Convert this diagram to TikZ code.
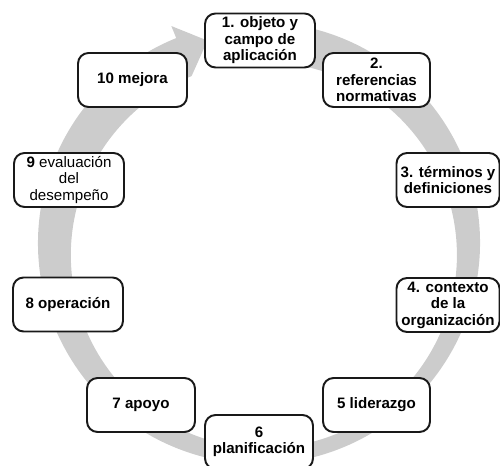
\documentclass[tikz,border=0pt]{standalone}
\usepackage{fontspec}
\setmainfont{Liberation Sans}
\begin{document}
\begin{tikzpicture}[x=0.02cm,y=0.02cm,
  pbox/.style={draw=black!90,line width=1.1pt,fill=white,rounded corners=6pt,
    align=center,inner sep=1pt,font=\fontsize{8.6}{9.4}\selectfont\bfseries},
  wA/.style={minimum width=2.2cm,minimum height=1.08cm},
  wB/.style={minimum width=2.14cm,minimum height=1.08cm},
  wC/.style={minimum width=2.06cm,minimum height=1.08cm}]
\useasboundingbox (0,0) rectangle (500,466);
% ring arrow
\begin{scope}[shift={(259,223)}]
\fill[black!20] (80:221) arc[start angle=80,end angle=-248,radius=221]
  -- (112:234) -- (-51.5,202.4) -- (112:180)
  arc[start angle=-248,end angle=80,radius=193] -- cycle;
\end{scope}
\node[pbox,wA] (b1) at (260,425.5) {1. objeto y\\campo de\\aplicación};
\node[pbox,wB] (b2) at (376.5,386) {2.\\referencias\\normativas};
\node[pbox,wC] (b3) at (448,286) {3. términos y\\definiciones};
\node[pbox,wC] (b4) at (448,161) {4. contexto\\de la\\organización};
\node[pbox,wB] (b5) at (376.5,61) {5 liderazgo};
\node[pbox,wB,minimum width=2.16cm] (b6) at (259,24) {6\\planificación};
\node[pbox,wB,minimum width=2.16cm] (b7) at (141,61) {7 apoyo};
\node[pbox,wA] (b8) at (68,161.5) {8 operación};
\node[pbox,wA,font=\fontsize{8.6}{9.4}\selectfont] (b9) at (69,286) {\textbf{9} evaluación\\del\\desempeño};
\node[pbox,wB,minimum width=2.18cm] (b10) at (132.5,386) {10 mejora};
\end{tikzpicture}
\end{document}
